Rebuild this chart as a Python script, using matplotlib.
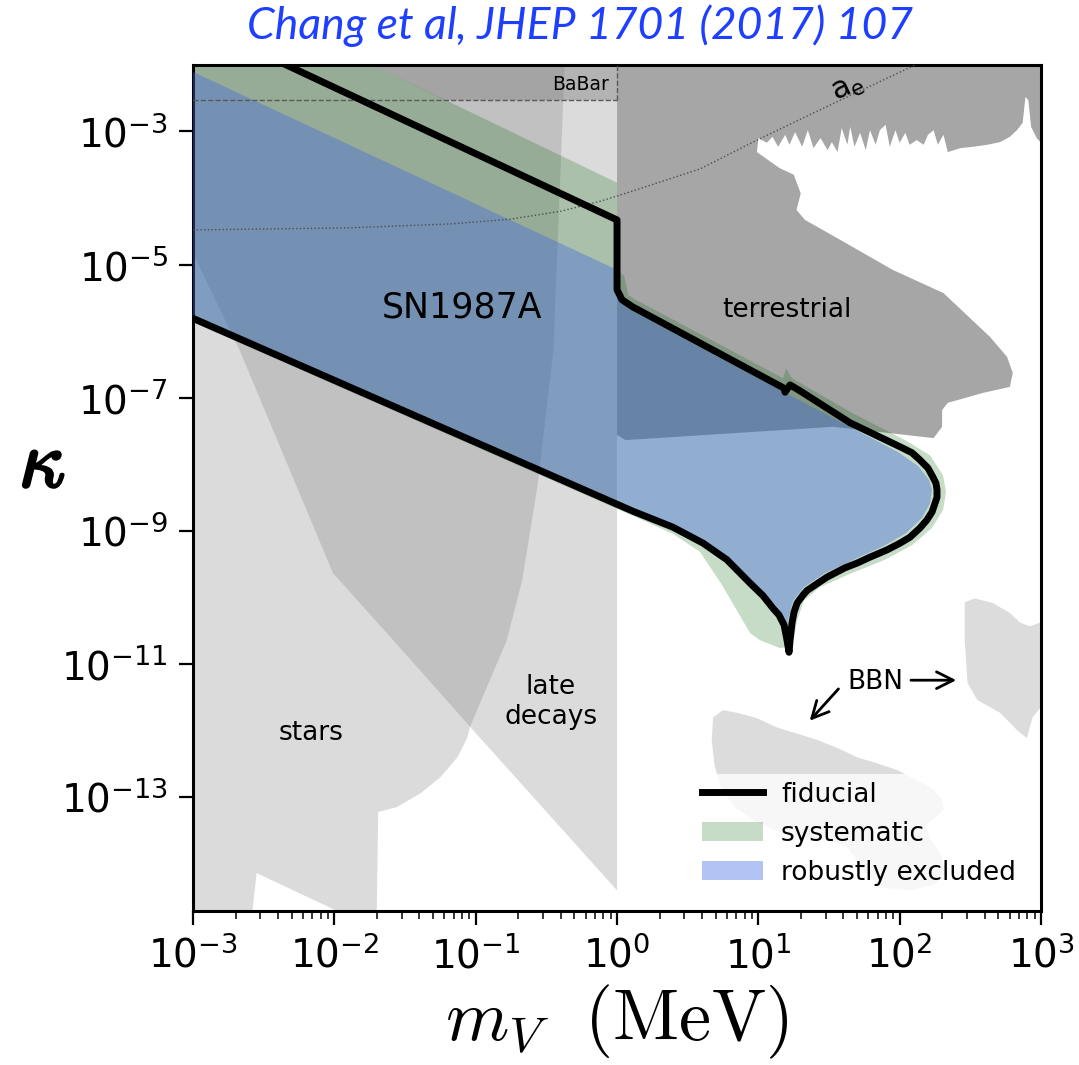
import numpy as np
import matplotlib.pyplot as plt
import matplotlib.patheffects as pe
from matplotlib.lines import Line2D
from matplotlib.patches import Patch
from matplotlib.ticker import NullLocator

# all values are log10(m_V / MeV) and log10(kappa)

# stellar cooling
stars_logm = [-3.00, -0.37, -0.38, -0.45, -0.56, -0.67, -0.78, -1.04, -1.06, -1.13,
              -1.25, -1.39, -1.56, -1.69, -1.70, -1.98, -2.55, -2.58, -3.00]
stars_logk = [-2.00, -2.00, -2.53, -6.29, -8.29, -9.74, -10.65, -11.95, -12.12, -12.41,
              -12.71, -12.95, -13.16, -13.23, -14.72, -14.72, -14.15, -14.72, -14.72]

# late decays
late_logm = [-3.00, -3.00, 0.00, 0.00, -1.04, -1.52, -2.01, -2.67]
late_logk = [-4.83, -2.00, -2.00, -14.41, -11.95, -10.80, -9.64, -6.29]

# BaBar (dashed outline) and the dark band above it
babar_logm = [-3.00, 0.00]
babar_logk = -2.53
babar_fill_logm = [-1.73, -1.22, 0.00, 0.00]
babar_fill_logk = [-2.00, -2.53, -2.53, -2.00]

# terrestrial (beam dumps, a_e, ...)
terr_logm = [0.00, 0.00, 0.06, 1.53, 2.24, 2.30, 2.30, 2.34, 2.59, 2.78, 2.80, 2.76,
             2.64, 2.36, 2.31, 1.95, 1.58, 1.33, 1.27, 1.30, 1.25, 1.15, 0.99,
             1.00, 1.06, 1.10, 1.14, 1.19, 1.22, 1.26, 1.31, 1.35, 1.39, 1.44, 1.49,
             1.52, 1.56, 1.59, 1.63, 1.65, 1.68, 1.72, 1.76, 1.79, 1.83, 1.86, 1.90,
             1.93, 1.97, 2.00, 2.04, 2.07, 2.12, 2.17, 2.20, 2.24, 2.27, 2.31, 2.34,
             2.43, 2.52, 2.62, 2.71, 2.78, 2.83, 2.87, 2.89, 2.91, 2.93, 2.97, 3.00,
             3.00]
terr_logk = [-2.00, -7.56, -7.64, -7.44, -7.61, -7.44, -7.19, -7.08, -6.93, -6.84, -6.63, -6.39,
             -6.09, -5.53, -5.43, -5.08, -4.63, -4.33, -4.18, -3.93, -3.65, -3.55, -3.31,
             -3.10, -3.17, -3.08, -3.23, -3.05, -3.20, -3.01, -3.23, -2.98, -3.25, -3.10, -3.28,
             -3.16, -3.31, -2.95, -3.20, -2.93, -3.23, -3.02, -3.28, -2.98, -3.20, -2.98, -2.90,
             -3.23, -2.98, -3.17, -3.02, -3.20, -3.13, -3.20, -3.05, -2.98, -3.20, -3.05, -3.31,
             -3.25, -3.23, -3.20, -3.16, -3.08, -2.98, -2.87, -2.48, -2.53, -2.93, -3.10, -3.17,
             -2.00]

# BBN
bbn1_logm = [0.68, 0.75, 0.85, 0.99, 1.13, 1.27, 1.42, 1.56, 1.70, 1.84, 1.98, 2.12, 2.24,
             2.30, 2.31, 2.25, 2.18, 2.22, 2.29, 2.32, 2.25, 2.07, 1.90, 1.78, 1.70, 1.61,
             1.44, 1.22, 0.99, 0.84, 0.74, 0.69, 0.67]
bbn1_logk = [-11.81, -11.70, -11.74, -11.82, -11.96, -12.05, -12.15, -12.27, -12.41, -12.50,
             -12.60, -12.75, -12.90, -13.05, -13.20, -13.32, -13.42, -13.65, -13.87, -14.13,
             -14.32, -14.41, -14.37, -14.22, -13.95, -13.72, -13.65, -13.59, -13.39, -13.17,
             -12.90, -12.53, -12.15]
bbn2_logm = [2.46, 2.53, 2.66, 2.78, 2.85, 2.92, 3.00, 3.00, 2.94, 2.90, 2.83, 2.71, 2.55, 2.48, 2.46]
bbn2_logk = [-10.08, -10.02, -10.09, -10.24, -10.38, -10.44, -10.38, -11.65, -11.81, -12.12,
             -12.00, -11.74, -11.55, -11.29, -10.65]

# a_e
ae_logm = [-3.00, -1.91, -1.18, -0.76, -0.40, -0.12, 0.09, 0.59, 0.99, 1.51, 2.11]
ae_logk = [-4.48, -4.45, -4.39, -4.32, -4.20, -4.05, -3.91, -3.56, -3.13, -2.60, -2.00]

# SN1987A: systematic band (union), robust region, fiducial contour
syst_logm = [-3.00, -1.73, 0.00, 0.00, 0.05, 0.08, 0.15, 1.175, 1.196, 1.238, 1.663, 2.038,
             2.215, 2.307, 2.328, 2.307, 2.229, 2.087, 1.896, 1.649, 1.436, 1.323, 1.274,
             1.245, 1.153, 1.132, 1.012, 0.941, 0.743, 0.587, 0.396, 0.113, -3.00]
syst_logk = [-2.00, -2.00, -3.77, -5.08, -5.17, -5.46, -5.55, -6.71, -6.56, -6.71, -7.23, -7.64,
             -7.87, -8.17, -8.42, -8.69, -8.96, -9.22, -9.44, -9.65, -9.85, -10.05, -10.35,
             -10.72, -10.77, -10.75, -10.65, -10.54, -9.82, -9.32, -9.05, -8.78, -5.87]

robust_logm = [-3.00, 0.00, 0.00, 0.05, 0.135, 1.182, 1.649, 1.988, 2.130, 2.208, 2.229, 2.215,
               2.158, 2.045, 1.889, 1.684, 1.472, 1.323, 1.245, 1.210, 1.196, 1.168, 1.118,
               0.941, 0.778, 0.609, 0.396, 0.113, -3.00]
robust_logk = [-2.105, -5.08, -5.47, -5.62, -5.73, -6.92, -7.44, -7.82, -8.03, -8.24, -8.39, -8.59,
               -8.81, -9.04, -9.23, -9.43, -9.64, -9.85, -10.06, -10.35, -10.53, -10.35, -10.20,
               -9.82, -9.47, -9.22, -8.98, -8.72, -5.81]

fid_logm = [-2.34, 0.00, 0.00, 0.035, 0.113, 1.182, 1.189, 1.224, 1.295, 1.649, 2.002, 2.087,
            2.144, 2.200, 2.236, 2.257, 2.264, 2.264, 2.250, 2.229, 2.193, 2.144, 2.073, 2.002,
            1.911, 1.790, 1.698, 1.613, 1.486, 1.436, 1.345, 1.316, 1.274, 1.252, 1.238, 1.224,
            1.217, 1.203, 1.182, 1.146, 1.104, 1.033, 0.941, 0.778, 0.609, 0.396, 0.113, -3.00]
fid_logk = [-2.00, -4.33, -5.38, -5.53, -5.64, -6.86, -6.92, -6.81, -6.90, -7.38, -7.74, -7.83,
            -7.94, -8.06, -8.20, -8.29, -8.39, -8.50, -8.59, -8.72, -8.84, -8.96, -9.10, -9.19,
            -9.29, -9.40, -9.49, -9.56, -9.70, -9.77, -9.90, -9.97, -10.09, -10.23, -10.39, -10.65,
            -10.83, -10.65, -10.42, -10.27, -10.17, -9.98, -9.79, -9.44, -9.19, -8.95, -8.71, -5.81]

GREEN = "darkgreen"
BLUE = "royalblue"


def pw(a):
    return 10.0 ** np.asarray(a, dtype=float)


fig = plt.figure(figsize=(10.79, 10.65), dpi=100)
ax = fig.add_axes([0.1789, 0.1446, 0.7859, 0.7944])
ax.set_xscale("log")
ax.set_yscale("log")
ax.set_xlim(1e-3, 1e3)
ax.set_ylim(10 ** -14.72, 1e-2)

# grey exclusion regions
ax.fill(pw(stars_logm), pw(stars_logk), color="0.5", alpha=0.28, lw=0, zorder=1)
ax.fill(pw(late_logm), pw(late_logk), color="0.5", alpha=0.28, lw=0, zorder=1)
ax.fill(pw(babar_fill_logm), pw(babar_fill_logk), color="0.5", alpha=0.44, lw=0, zorder=1)
ax.fill(pw(terr_logm), pw(terr_logk), color="#a6a6a6", lw=0, zorder=1)
ax.fill(pw(bbn1_logm), pw(bbn1_logk), color="#dcdcdc", lw=0, zorder=1)
ax.fill(pw(bbn2_logm), pw(bbn2_logk), color="#dcdcdc", lw=0, zorder=1)

ax.plot(pw(babar_logm), [10 ** babar_logk] * 2, ls="--", color="0.35", lw=1.0, zorder=4)
ax.plot([1.0, 1.0], [10 ** babar_logk, 1e-2], ls="--", color="0.35", lw=1.0, zorder=4)
ax.plot(pw(ae_logm), pw(ae_logk), ls=":", color="0.3", lw=1.0, zorder=4)

# SN1987A
ax.fill(pw(syst_logm), pw(syst_logk), color=GREEN, alpha=0.22, lw=0, zorder=2)
ax.fill(pw(robust_logm), pw(robust_logk), color=BLUE, alpha=0.4, lw=0, zorder=3)
ax.plot(pw(fid_logm), pw(fid_logk), color="k", lw=5, zorder=5)

# labels inside the plot
ax.text(10 ** -1.10, 10 ** -5.65, "SN1987A", fontsize=25, ha="center", va="center", zorder=6)
ax.text(10 ** 1.20, 10 ** -5.68, "terrestrial", fontsize=19, ha="center", va="center", zorder=6)
ax.text(10 ** -2.165, 10 ** -12.05, "stars", fontsize=19, ha="center", va="center", zorder=6)
ax.text(10 ** -0.47, 10 ** -11.58, "late\ndecays", fontsize=19, ha="center", va="center",
        linespacing=1.2, zorder=6)
ax.text(10 ** -0.26, 10 ** -2.30, "BaBar", fontsize=13.5, ha="center", va="center", zorder=6)
ax.text(10 ** 1.634, 10 ** -2.345, r"$\mathrm{a_e}$", fontsize=22, rotation=25,
        ha="center", va="center", zorder=6)
ax.text(10 ** 1.826, 10 ** -11.28, "BBN", fontsize=19, ha="center", va="center", zorder=6)
ax.annotate("", xy=(10 ** 2.42, 10 ** -11.25), xytext=(10 ** 2.06, 10 ** -11.25),
            arrowprops=dict(arrowstyle="->", lw=2, color="k", mutation_scale=30), zorder=6)
ax.annotate("", xy=(10 ** 1.35, 10 ** -11.89), xytext=(10 ** 1.58, 10 ** -11.35),
            arrowprops=dict(arrowstyle="->", lw=2, color="k", mutation_scale=30), zorder=6)

# axes styling
ax.set_yticks(pw([-3, -5, -7, -9, -11, -13]))
ax.yaxis.set_minor_locator(NullLocator())
ax.tick_params(which="major", length=10, width=1.6, labelsize=28, direction="out")
ax.tick_params(which="minor", length=5.5, width=1.1, direction="out")
ax.tick_params(axis="y", pad=8)
ax.tick_params(axis="x", pad=8)
for sp in ax.spines.values():
    sp.set_linewidth(2.2)

ax.set_xlabel(r"$m_V\ \ (\mathrm{MeV})$", fontsize=52, math_fontfamily="cm")
ax.xaxis.set_label_coords(0.5, -0.085)
ax.set_ylabel(r"$\kappa$", fontsize=58, rotation=0, math_fontfamily="cm", va="center",
              path_effects=[pe.withStroke(linewidth=2.0, foreground="k")])
ax.yaxis.set_label_coords(-0.178, 0.527)

handles = [Line2D([], [], color="k", lw=5),
           Patch(facecolor=GREEN, alpha=0.22, edgecolor="none"),
           Patch(facecolor=BLUE, alpha=0.4, edgecolor="none")]
ax.legend(handles, ["fiducial", "systematic", "robustly excluded"], loc="lower right",
          fontsize=19, framealpha=0.8, edgecolor="none", handlelength=2.3,
          handletextpad=0.7, labelspacing=0.5, borderpad=0.3, borderaxespad=0.65)

fig.text(0.5377, 0.9755, "Chang et al, JHEP 1701 (2017) 107", color="#1f3fff",
         fontsize=32, family="Lato", style="italic", ha="center", va="center")

fig.savefig("out.png", dpi=100)
